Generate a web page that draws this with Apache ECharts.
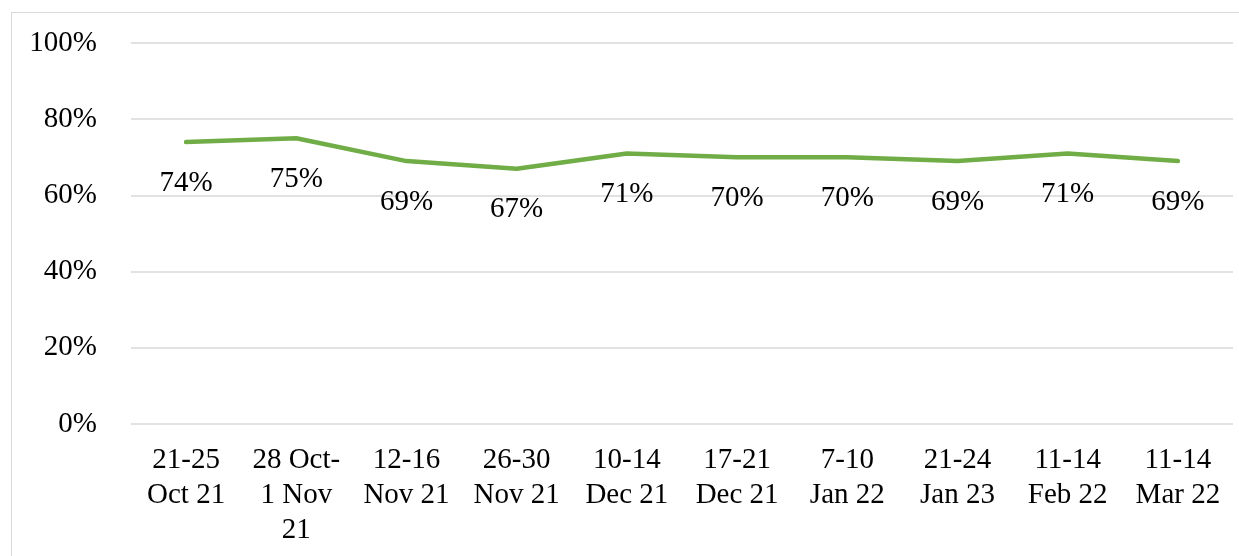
<!DOCTYPE html>
<html>
<head>
<meta charset="utf-8">
<script src="https://cdn.jsdelivr.net/npm/echarts@6/dist/echarts.min.js"></script>
<style>
html,body{margin:0;padding:0;background:#fff;}
#main{width:1239px;height:556px;position:relative;}
#frame{position:absolute;left:11px;top:12px;width:1240px;height:560px;border:1px solid #d9d9d9;box-sizing:border-box;pointer-events:none;}
</style>
</head>
<body>
<div id="main"></div>
<div id="frame"></div>
<script>
var weeks = ['21-25\nOct 21', '28 Oct-\n1 Nov\n21', '12-16\nNov 21', '26-30\nNov 21', '10-14\nDec 21',
	'17-21\nDec 21', '7-10\nJan 22', '21-24\nJan 23', '11-14\nFeb 22', '11-14\nMar 22'];
var share = [74, 75, 69, 67, 71, 70, 70, 69, 71, 69];
var yTicks = [0, 20, 40, 60, 80, 100];

var font = '"Liberation Serif", "Times New Roman", serif';
var myChart = echarts.init(document.getElementById('main'));
var option = {
	animation: false,
	grid: {left: 131, right: 6, top: 43, bottom: 132, containLabel: false},
	xAxis: {
		type: 'category',
		data: weeks,
		boundaryGap: true,
		axisLine: {show: false},
		axisTick: {show: false},
		axisLabel: {
			interval: 0,
			margin: 19,
			color: '#000',
			fontFamily: font,
			fontSize: 29,
			lineHeight: 35
		}
	},
	yAxis: {
		type: 'value',
		min: yTicks[0],
		max: yTicks[yTicks.length - 1],
		interval: 20,
		axisLine: {show: false},
		axisTick: {show: false},
		splitLine: {lineStyle: {color: '#d9d9d9', width: 1.5}},
		axisLabel: {
			margin: 34,
			color: '#000',
			fontFamily: font,
			fontSize: 29,
			formatter: '{value}%'
		}
	},
	series: [{
		type: 'line',
		data: share,
		symbol: 'circle',
		symbolSize: 1,
		itemStyle: {color: 'rgba(0,0,0,0)'},
		lineStyle: {color: '#70ad47', width: 4.5, cap: 'round', join: 'round'},
		label: {
			show: true,
			position: 'bottom',
			distance: 26,
			color: '#000',
			fontFamily: font,
			fontSize: 29,
			formatter: '{c}%'
		}
	}]
};
myChart.setOption(option);
</script>
</body>
</html>
